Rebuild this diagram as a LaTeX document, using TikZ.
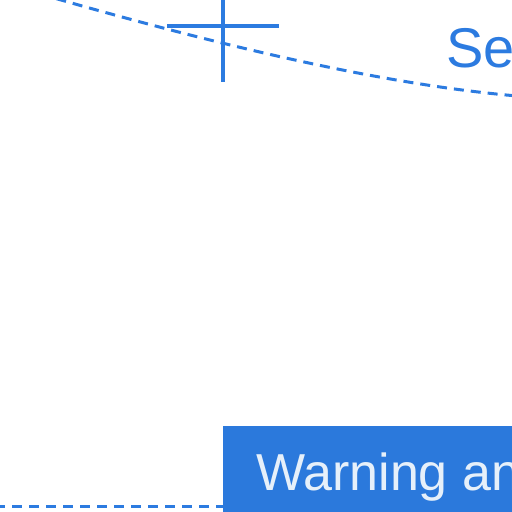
\documentclass[tikz,border=0pt]{standalone}
\usepackage{fontspec}
\setmainfont{Liberation Sans}
\definecolor{lineblue}{HTML}{2C7BE0}
\definecolor{boxblue}{HTML}{2B79DC}
\definecolor{boxtext}{HTML}{E6F0FA}
\begin{document}
\begin{tikzpicture}[x=1pt,y=-1pt,
  dashline/.style={draw=lineblue,line width=3pt,dash pattern=on 10pt off 7pt},
  crossline/.style={draw=lineblue,line width=4pt},
  bluebox/.style={fill=boxblue,draw=none,minimum width=320pt,minimum height=100pt,anchor=north west,inner sep=0pt},
  bigtext/.style={inner sep=0pt}]
\useasboundingbox (0,0) rectangle (512,512);
\clip (0,0) rectangle (512,512);
% dashed curve
\coordinate (cs) at (40,-6);
\coordinate (ce) at (530,97);
\draw[dashline] (cs) .. controls (200,40) and (380,86) .. (ce);
% cross
\coordinate (hl) at (167,26);
\coordinate (hr) at (279,26);
\coordinate (vt) at (223,-5);
\coordinate (vb) at (223,82);
\draw[crossline] (hl) -- (hr);
\draw[crossline] (vt) -- (vb);
% label
\node[bigtext,font=\fontsize{56}{62}\selectfont,text=lineblue,anchor=base west] (se) at (446,67) {Se};
% box
\node[bluebox] (box) at (223,426) {};
\node[bigtext,font=\fontsize{52}{58}\selectfont,text=boxtext,anchor=base west] (warn) at (256,490) {Warning an};
% dashed horizontal line
\coordinate (hs) at (-5,506);
\draw[dashline] (hs) -- (hs -| box.west);
\end{tikzpicture}
\end{document}
